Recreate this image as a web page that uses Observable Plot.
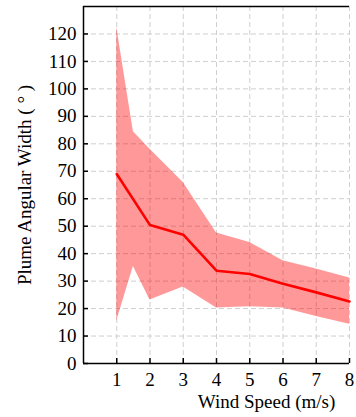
<!DOCTYPE html>
<html>
<head>
<meta charset="utf-8">
<script src="https://cdn.jsdelivr.net/npm/d3@7"></script>
<script src="https://cdn.jsdelivr.net/npm/@observablehq/plot@0.6"></script>
<style>
  html, body { margin: 0; padding: 0; background: white; }
  #chart svg { display: block; }
</style>
</head>
<body>
<div id="chart"></div>
<script>
// Mean plume angular width (degrees) by wind speed (m/s)
const meanSpeeds = [1, 2, 3, 4, 5, 6, 7, 8];
const meanWidth = [69.0, 50.4, 46.9, 33.8, 32.6, 29.0, 25.9, 22.6];

// Spread envelope around the mean
const bandSpeeds = [1, 1.5, 2, 3, 4, 5, 6, 7, 8];
const upperWidth = [122.4, 84.4, 78.0, 65.9, 47.5, 44.1, 37.4, 34.4, 31.1];
const lowerWidth = [15.5, 35.3, 23.1, 27.9, 20.2, 20.7, 20.2, 17.1, 14.3];

const xTicks = [1, 2, 3, 4, 5, 6, 7, 8];
const yTicks = [0, 10, 20, 30, 40, 50, 60, 70, 80, 90, 100, 110, 120];

const xLabel = "Wind Speed (m/s)";
const yLabel = "Plume Angular Width ( \u00B0 )";

const meanRows = meanSpeeds.map((s, i) => ({speed: s, width: meanWidth[i]}));
const bandRows = bandSpeeds.map((s, i) => ({speed: s, lower: lowerWidth[i], upper: upperWidth[i]}));

const gridStyle = {stroke: "#cfcfcf", strokeOpacity: 1, strokeWidth: 1, strokeDasharray: "5,3"};

const chart = Plot.plot({
  width: 356,
  height: 417,
  marginLeft: 83,
  marginRight: 7,
  marginTop: 6,
  marginBottom: 54,
  style: {fontFamily: "'Liberation Serif', 'DejaVu Serif', serif", fontSize: "19px", color: "black", background: "white"},
  x: {domain: [0, 8]},
  y: {domain: [0, 130]},
  marks: [
    Plot.gridX(xTicks, gridStyle),
    Plot.gridY(yTicks.filter(d => d > 0), gridStyle),
    Plot.areaY(bandRows, {x: "speed", y1: "lower", y2: "upper", fill: "red", fillOpacity: 0.4}),
    Plot.line(meanRows, {x: "speed", y: "width", stroke: "red", strokeWidth: 2.6}),
    Plot.axisX(xTicks, {tickSize: -5, tickPadding: 14, strokeWidth: 1.5, label: null, fontSize: 19}),
    Plot.axisY(yTicks, {
      tickSize: -5, tickPadding: 12, strokeWidth: 1.5, fontSize: 19,
      label: yLabel, labelAnchor: "center", labelOffset: 66, labelArrow: "none"
    }),
    Plot.ruleX([0], {stroke: "black", strokeWidth: 1.5}),
    Plot.ruleY([0], {stroke: "black", strokeWidth: 1.5}),
    Plot.ruleY([130], {stroke: "black", strokeWidth: 1.5}),
    Plot.text([xLabel], {text: d => d, frameAnchor: "bottom", dy: 44, dx: 50, fontSize: 19})
  ]
});

document.getElementById("chart").append(chart);
</script>
</body>
</html>
